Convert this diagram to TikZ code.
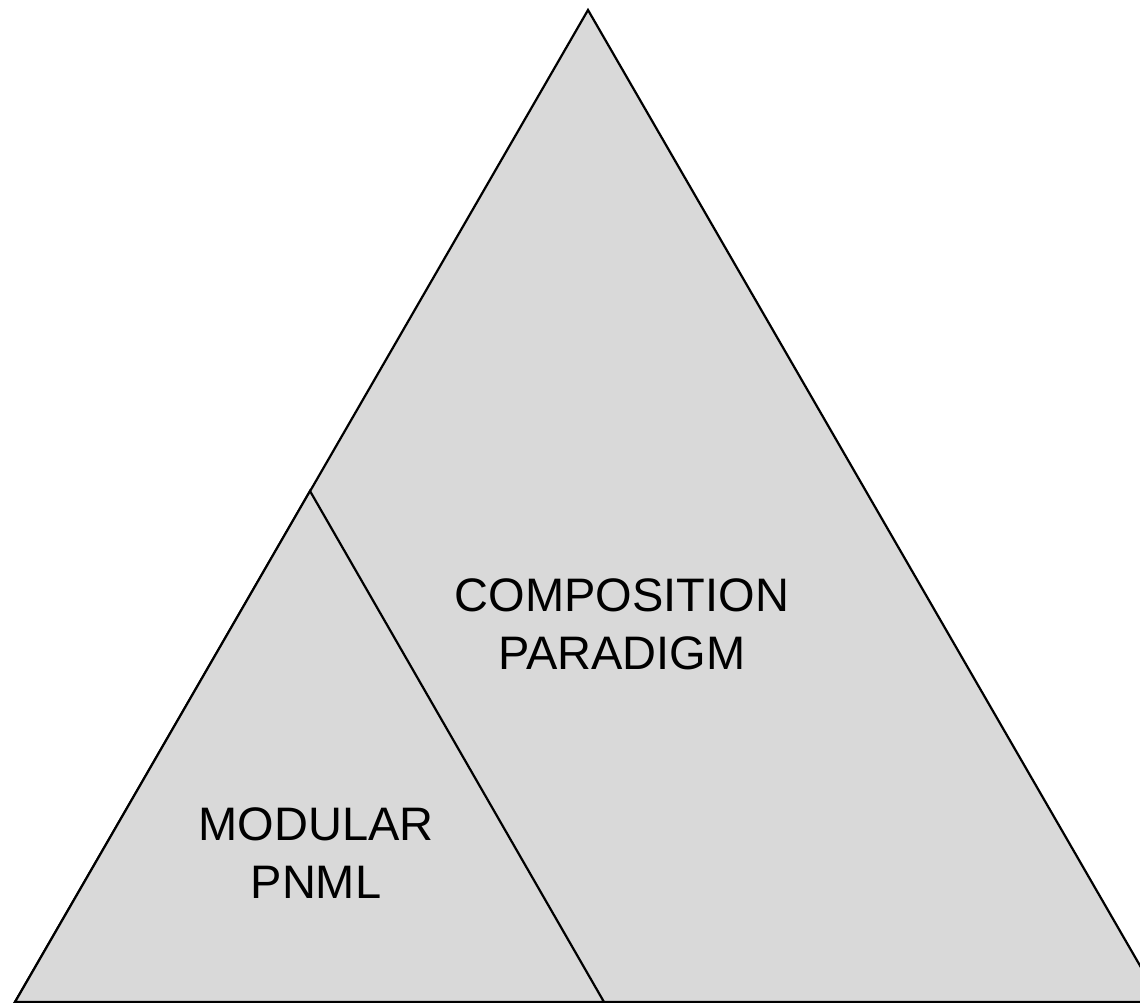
\documentclass[tikz,border=0pt]{standalone}
\usepackage{fontspec}
\setmainfont{Liberation Sans}
\definecolor{tri}{HTML}{D9D9D9}
\begin{document}
\begin{tikzpicture}[x=1pt,y=-1pt,
  region/.style={fill=tri,draw=black,line width=2.2pt,line join=miter},
  label/.style={align=center,inner sep=0pt,font=\fontsize{47}{58}\selectfont}]
\useasboundingbox (0,0) rectangle (1140,1003);
\begin{scope}
\clip (0,0) rectangle (1140,1003);
\coordinate (apex) at (588,10);
\coordinate (bl) at (15,1002);
\coordinate (br) at (1161,1002);
\coordinate (mid) at (310,491);
\coordinate (bm) at (604,1002);
\draw[region] (apex) -- (bl) -- (br) -- cycle;
\draw[region] (mid) -- (bl) -- (bm) -- cycle;
\end{scope}
\node[label] (comp) at (622,624) {COMPOSITION\\PARADIGM};
\node[label] (mod) at (316,853.5) {MODULAR\\PNML};
\end{tikzpicture}
\end{document}
